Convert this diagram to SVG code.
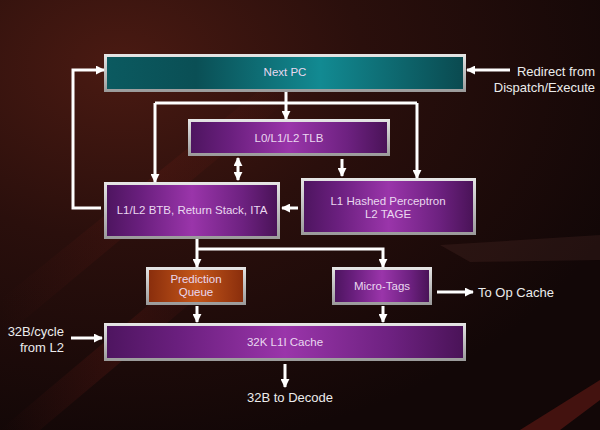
<svg xmlns="http://www.w3.org/2000/svg" width="600" height="430" viewBox="0 0 600 430">
<defs>
<radialGradient id="bg" cx="0.2" cy="0.15" r="0.9">
<stop offset="0" stop-color="#4a1a12"/>
<stop offset="0.45" stop-color="#2a0f0c"/>
<stop offset="1" stop-color="#120707"/>
</radialGradient>
<linearGradient id="streak" x1="0" y1="0" x2="1" y2="0">
<stop offset="0" stop-color="#b02a20" stop-opacity="0"/>
<stop offset="0.5" stop-color="#b02a20" stop-opacity="0.35"/>
<stop offset="1" stop-color="#b02a20" stop-opacity="0"/>
</linearGradient>
<linearGradient id="teal" x1="0" y1="0" x2="1" y2="0">
<stop offset="0" stop-color="#0b5a60"/>
<stop offset="0.25" stop-color="#0a4f55"/>
<stop offset="0.6" stop-color="#128a92"/>
<stop offset="1" stop-color="#0a4a50"/>
</linearGradient>
<linearGradient id="purple" x1="0" y1="0" x2="1" y2="0">
<stop offset="0" stop-color="#4e1560"/>
<stop offset="0.2" stop-color="#6a1f7e"/>
<stop offset="0.5" stop-color="#9a35aa"/>
<stop offset="0.8" stop-color="#6d2180"/>
<stop offset="1" stop-color="#4a1358"/>
</linearGradient>
<linearGradient id="orange" x1="0" y1="0" x2="1" y2="0">
<stop offset="0" stop-color="#8a2e0c"/>
<stop offset="0.5" stop-color="#c4561a"/>
<stop offset="1" stop-color="#8a2e0c"/>
</linearGradient>
<linearGradient id="bevel" x1="0" y1="0" x2="0" y2="1">
<stop offset="0" stop-color="#e6e6e6"/>
<stop offset="1" stop-color="#9a9a9a"/>
</linearGradient>
<marker id="ah" viewBox="0 0 10 10" refX="9" refY="5" markerWidth="3" markerHeight="3" orient="auto-start-reverse" markerUnits="strokeWidth">
<path d="M0,0 L10,5 L0,10 z" fill="#ffffff"/>
</marker>
<style>
.frame{fill:url(#bevel);}
.txt{font-family:"Liberation Sans Narrow","Liberation Sans",Arial,sans-serif;font-size:11.5px;fill:#ead8f0;text-anchor:middle;}
.lbl{font-family:"Liberation Sans Narrow","Liberation Sans",Arial,sans-serif;font-size:13px;fill:#ececec;}
.wire{fill:none;stroke:#ffffff;stroke-width:3;}
.arr{fill:none;stroke:#ffffff;stroke-width:3;marker-end:url(#ah);}
.arr2{fill:none;stroke:#ffffff;stroke-width:3;marker-end:url(#ah);marker-start:url(#ah);}
</style>
</defs>
<rect width="600" height="430" fill="url(#bg)"/>
<path d="M0,300 L260,90 L300,90 L0,340 z" fill="url(#streak)" opacity="0.3"/>
<path d="M0,430 L190,270 L230,270 L40,430 z" fill="url(#streak)" opacity="0.4"/>
<path d="M440,245 L600,235 L600,260 L470,262 z" fill="#6a3a36" opacity="0.2"/>
<path d="M520,430 L600,380 L600,400 L560,430 z" fill="#a02820" opacity="0.35"/>

<g id="next-pc">
<rect class="frame" x="104" y="54" width="362" height="38"/>
<rect x="107" y="57" width="356" height="32" fill="url(#teal)"/>
<text class="txt" x="285" y="76">Next PC</text>
</g>
<g id="tlb">
<rect class="frame" x="188" y="119" width="202" height="37"/>
<rect x="191" y="122" width="196" height="31" fill="url(#purple)"/>
<text class="txt" x="289" y="142">L0/L1/L2 TLB</text>
</g>
<g id="btb">
<rect class="frame" x="104" y="182" width="176" height="57"/>
<rect x="107" y="185" width="170" height="51" fill="url(#purple)"/>
<text class="txt" x="192" y="214">L1/L2 BTB, Return Stack, ITA</text>
</g>
<g id="perceptron">
<rect class="frame" x="301" y="178" width="175" height="57"/>
<rect x="304" y="181" width="169" height="51" fill="url(#purple)"/>
<text class="txt" x="388" y="205">L1 Hashed Perceptron</text>
<text class="txt" x="388" y="218">L2 TAGE</text>
</g>
<g id="prediction-queue">
<rect class="frame" x="146" y="267" width="100" height="38"/>
<rect x="149" y="270" width="94" height="32" fill="url(#orange)"/>
<text class="txt" x="196" y="283">Prediction</text>
<text class="txt" x="196" y="296">Queue</text>
</g>
<g id="micro-tags">
<rect class="frame" x="332" y="267" width="100" height="38"/>
<rect x="335" y="270" width="94" height="32" fill="url(#purple)"/>
<text class="txt" x="382" y="290">Micro-Tags</text>
</g>
<g id="l1i-cache">
<rect class="frame" x="104" y="323" width="362" height="38"/>
<rect x="107" y="326" width="356" height="32" fill="url(#purple)"/>
<text class="txt" x="285" y="346">32K L1I Cache</text>
</g>

<g id="connectors">
<path class="arr" d="M286,92 L286,119"/>
<path class="wire" d="M155,103 L417,103"/>
<path class="arr" d="M155,103 L155,182"/>
<path class="arr" d="M417,103 L417,178"/>
<path class="arr2" d="M238,158 L238,180"/>
<path class="arr" d="M342,159 L342,176"/>
<path class="arr" d="M298,208 L282,208"/>
<path class="arr" d="M101,208 L73,208 L73,70 L104,70"/>
<path class="arr" d="M197,239 L197,267"/>
<path class="arr" d="M197,249 L383,249 L383,267"/>
<path class="arr" d="M197,306 L197,322"/>
<path class="arr" d="M383,306 L383,322"/>
<path class="arr" d="M437,292 L473,292"/>
<path class="arr" d="M71,338 L102,338"/>
<path class="arr" d="M285,364 L285,387"/>
<path class="arr" d="M510,70 L467,70"/>
</g>

<text class="lbl" x="595" y="76" text-anchor="end">Redirect from</text>
<text class="lbl" x="595" y="92" text-anchor="end">Dispatch/Execute</text>
<text class="lbl" x="478" y="297">To Op Cache</text>
<text class="lbl" x="64" y="336" text-anchor="end">32B/cycle</text>
<text class="lbl" x="64" y="352" text-anchor="end">from L2</text>
<text class="lbl" x="290" y="402" text-anchor="middle">32B to Decode</text>
</svg>
